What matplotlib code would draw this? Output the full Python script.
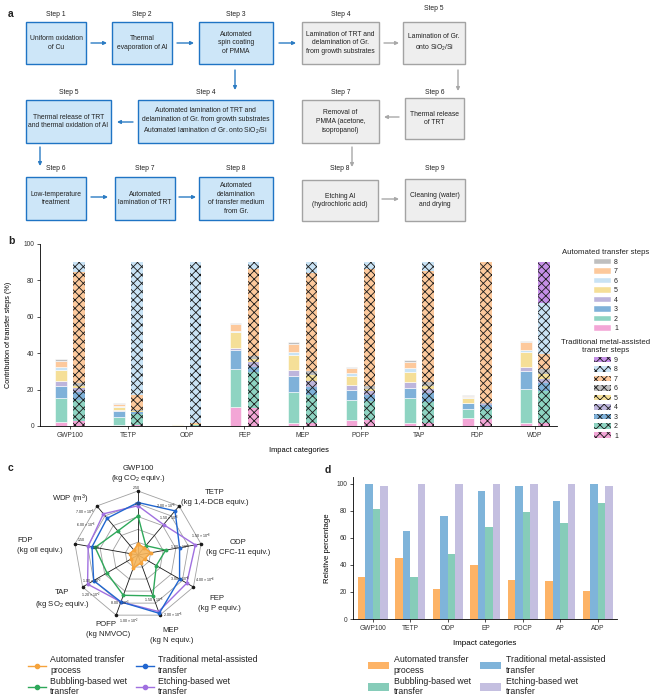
import matplotlib
matplotlib.use("Agg")
import matplotlib.pyplot as plt
import numpy as np
from matplotlib.patches import Rectangle, Patch
from matplotlib.lines import Line2D

plt.rcParams['font.family'] = ['Liberation Sans', 'DejaVu Sans']
plt.rcParams['mathtext.fontset'] = 'custom'
plt.rcParams['mathtext.rm'] = 'Liberation Sans'
plt.rcParams['mathtext.it'] = 'Liberation Sans:italic'
plt.rcParams['hatch.linewidth'] = 0.6
plt.rcParams['axes.linewidth'] = 0.6
plt.rcParams['xtick.major.width'] = 0.6
plt.rcParams['ytick.major.width'] = 0.6
plt.rcParams['xtick.major.size'] = 2
plt.rcParams['ytick.major.size'] = 2
plt.rcParams['text.color'] = '#222222'

# ---------------- data ----------------
# panel b: cumulative tops of each step segment (%)
b_categories = ['GWP100', 'TETP', 'ODP', 'FEP', 'MEP', 'POFP', 'TAP', 'FDP', 'WDP']
auto_cum = [
    [2.4, 15.6, 22.2, 24.9, 30.8, 32.6, 35.9, 36.8],
    [0.3, 5.1, 8.2, 8.6, 10.6, 11.2, 12.3, 12.6],
    [0.1, 0.4, 0.7, 0.8, 0.9, 1.0, 1.1, 1.2],
    [10.3, 31.1, 41.6, 43.0, 51.6, 52.4, 56.2, 56.6],
    [1.8, 18.7, 27.5, 31.0, 38.8, 40.5, 45.0, 46.2],
    [3.3, 14.3, 19.8, 22.3, 27.5, 29.3, 31.7, 32.4],
    [1.8, 15.2, 21.1, 24.4, 29.9, 32.0, 35.3, 36.3],
    [4.2, 9.2, 12.5, 12.8, 15.2, 15.9, 16.7, 17.0],
    [1.8, 20.5, 30.2, 32.6, 40.8, 41.8, 46.0, 46.7],
]
trad_cum = [
    [2.5, 14.3, 18.9, 20.7, 22.2, 23.4, 84.4, 90.3, 90.3],
    [0.3, 6.6, 7.5, 7.9, 8.2, 8.8, 17.0, 90.3, 90.3],
    [0.2, 0.5, 0.7, 0.8, 0.9, 1.0, 1.6, 90.3, 90.3],
    [10.0, 29.5, 32.5, 35.0, 37.0, 38.5, 86.0, 90.3, 90.3],
    [1.8, 17.0, 21.5, 25.0, 28.0, 30.0, 84.2, 90.3, 90.3],
    [3.3, 14.0, 17.0, 19.0, 20.5, 22.0, 86.0, 90.3, 90.3],
    [1.8, 13.4, 18.0, 20.3, 22.2, 24.0, 85.3, 90.3, 90.3],
    [3.7, 9.3, 11.5, 11.9, 12.3, 12.8, 90.0, 90.3, 90.3],
    [1.5, 19.0, 23.4, 25.8, 28.4, 31.1, 39.6, 67.4, 90.3],
]
auto_colors = ['#f3a6d6', '#8ed4c2', '#7fb1d9', '#bdb5dc', '#f5df98', '#c9e3f5', '#fdc99c', '#bfbfbf']
trad_colors = ['#f3a6d6', '#8ed4c2', '#7fb1d9', '#bdb5dc', '#f5df98', '#bfbfbf', '#fdc99c', '#c9e3f5', '#c48fe6']

# panel c: radar, fraction of outer ring
c_axes = ['GWP100', 'TETP', 'ODP', 'FEP', 'MEP', 'POFP', 'TAP', 'FDP', 'WDP']
c_units = ['(kg CO$_2$ equiv.)', '(kg 1,4-DCB equiv.)', '(kg CFC-11 equiv.)', '(kg P equiv.)',
           '(kg N equiv.)', '(kg NMVOC)', '(kg SO$_2$ equiv.)', '(kg oil equiv.)', '']
c_auto = [0.17, 0.15, 0.20, 0.12, 0.13, 0.22, 0.12, 0.13, 0.10]
c_trad = [0.82, 0.90, 0.66, 0.75, 0.97, 0.78, 0.80, 0.73, 0.75]
c_bubb = [0.61, 0.19, 0.44, 0.33, 0.68, 0.67, 0.56, 0.68, 0.49]
c_etch = [0.77, 0.62, 0.91, 0.88, 0.94, 0.78, 0.91, 0.79, 0.84]
c_outer_lbl = ['2.50', '2.00 × 10$^{-8}$', '1.50 × 10$^{-8}$', '4.00 × 10$^{-4}$', '2.00 × 10$^{-5}$',
               '1.00 × 10$^{-2}$', '1.20 × 10$^{-2}$', '1.50', '7.00 × 10$^{-6}$']
c_inner_lbl = ['2.00', '1.50 × 10$^{-8}$', '1.00 × 10$^{-8}$', '3.00 × 10$^{-4}$', '1.50 × 10$^{-5}$',
               '8.00 × 10$^{-3}$', '1.00 × 10$^{-2}$', '1.00', '6.00 × 10$^{-6}$']
c_inner_pos = [0.8, 0.75, 0.67, 0.75, 0.75, 0.8, 0.83, 0.67, 0.86]

# panel d
d_categories = ['GWP100', 'TETP', 'ODP', 'EP', 'POCP', 'AP', 'ADP']
d_auto = [31, 45, 22, 40, 29, 28, 21]
d_trad = [100, 65, 76, 95, 98, 87, 100]
d_bubb = [81, 31, 48, 68, 79, 71, 86]
d_etch = [98, 100, 100, 100, 100, 100, 98]

W, H = 661, 700
fig = plt.figure(figsize=(W / 100, H / 100), dpi=100)


def fax(x0, y0, x1, y1, **kw):
    # axes from pixel box (top-left origin)
    return fig.add_axes([x0 / W, 1 - y1 / H, (x1 - x0) / W, (y1 - y0) / H], **kw)


# ---------------- panel a ----------------
axa = fax(0, 0, W, 235)
axa.set_xlim(0, W)
axa.set_ylim(235, 0)
axa.axis('off')

blue_fc, blue_ec = '#cde6f8', '#1f74c4'
gray_fc, gray_ec = '#eeeeee', '#a3a3a3'
boxes = [
    (26, 22, 86, 64, "Uniform oxidation\nof Cu", "Step 1", 'b', 14),
    (112, 22, 172, 64, "Thermal\nevaporation of Al", "Step 2", 'b', 14),
    (199, 22, 273, 64, "Automated\nspin coating\nof PMMA", "Step 3", 'b', 14),
    (302, 22, 379, 64, "Lamination of TRT and\ndelamination of Gr.\nfrom growth substrates", "Step 4", 'g', 14),
    (403, 22, 465, 64, "Lamination of Gr.\nonto SiO$_2$/Si", "Step 5", 'g', 9),
    (26, 100, 111, 143, "Thermal release of TRT\nand thermal oxidation of Al", "Step 5", 'b', 92),
    (138, 100, 273, 143, "Automated lamination of TRT and\ndelamination of Gr. from growth substrates\n"
                         "Automated lamination of Gr. onto SiO$_2$/Si", "Step 4", 'b', 92),
    (302, 100, 379, 143, "Removal of\nPMMA (acetone,\nisopropanol)", "Step 7", 'g', 92),
    (405, 98, 464, 139, "Thermal release\nof TRT", "Step 6", 'g', 92),
    (26, 177, 86, 220, "Low-temperature\ntreatment", "Step 6", 'b', 168),
    (115, 177, 175, 220, "Automated\nlamination of TRT", "Step 7", 'b', 168),
    (199, 177, 273, 220, "Automated\ndelamination\nof transfer medium\nfrom Gr.", "Step 8", 'b', 168),
    (302, 180, 378, 221, "Etching Al\n(hydrochloric acid)", "Step 8", 'g', 168),
    (405, 179, 465, 221, "Cleaning (water)\nand drying", "Step 9", 'g', 168),
]
for x0, y0, x1, y1, txt, step, kind, sy in boxes:
    fc, ec = (blue_fc, blue_ec) if kind == 'b' else (gray_fc, gray_ec)
    axa.add_patch(Rectangle((x0, y0), x1 - x0, y1 - y0, facecolor=fc, edgecolor=ec, lw=1.0))
    axa.text((x0 + x1) / 2, (y0 + y1) / 2, txt, ha='center', va='center', fontsize=4.9,
             linespacing=1.35)
    axa.text((x0 + x1) / 2, sy, step, ha='center', va='center', fontsize=4.9)

arrows = [
    ((91, 43), (107, 43), 'b'), ((177, 43), (194, 43), 'b'), ((279, 43), (296, 43), 'b'),
    ((384, 43), (399, 43), 'g'), ((235, 70), (235, 90), 'b'), ((458, 70), (458, 91), 'g'),
    ((133, 122), (117, 122), 'b'), ((399, 117), (384, 117), 'g'),
    ((40, 147), (40, 166), 'b'), ((352, 147), (352, 167), 'g'),
    ((91, 197), (108, 197), 'b'), ((179, 197), (196, 197), 'b'), ((382, 199), (399, 199), 'g'),
]
for p0, p1, kind in arrows:
    col = '#2b7bc3' if kind == 'b' else '#a8a8a8'
    axa.annotate('', xy=p1, xytext=p0,
                 arrowprops=dict(arrowstyle='-|>', color=col, lw=1.0, mutation_scale=5,
                                 shrinkA=0, shrinkB=0))

# ---------------- panel b ----------------
axb = fax(40, 244, 557, 426)
xb = np.arange(len(b_categories))
bw, off = 0.2, 0.155
for i in range(len(b_categories)):
    a_seg = np.diff(auto_cum[i], prepend=0)
    a_bot = np.array(auto_cum[i]) - a_seg
    axb.bar(np.full(8, xb[i] - off), a_seg, bw, bottom=a_bot, color=auto_colors,
            edgecolor='white', linewidth=0.4)
    t_seg = np.diff(trad_cum[i], prepend=0)
    t_bot = np.array(trad_cum[i]) - t_seg
    axb.bar(np.full(9, xb[i] + off), t_seg, bw, bottom=t_bot, color=trad_colors,
            edgecolor='#1a1a1a', linewidth=0, hatch='xxxx')
axb.set_xlim(-0.52, 8.38)
axb.set_ylim(0, 100)
axb.set_yticks(range(0, 101, 20))
axb.set_xticks(xb)
axb.set_xticklabels(b_categories)
axb.tick_params(labelsize=4.8, pad=2, colors='#333333')
for s in ['top', 'right']:
    axb.spines[s].set_visible(False)
axb.set_ylabel('Contribution of transfer steps (%)', fontsize=5.2)
axb.yaxis.set_label_coords(-0.054, 0.5)
axb.set_xlabel('Impact categories', fontsize=5.4)
axb.xaxis.set_label_coords(0.5, -0.115)

h_auto = [Patch(facecolor=auto_colors[k], edgecolor='white', lw=0.3) for k in range(7, -1, -1)]
l_auto = [str(k + 1) for k in range(7, -1, -1)]
leg1 = axb.legend(h_auto, l_auto, title='Automated transfer steps', loc='upper center',
                  bbox_to_anchor=(606 / W, 1 - 246 / H), bbox_transform=fig.transFigure,
                  frameon=False, fontsize=5, title_fontsize=5.6, handlelength=2.4,
                  handleheight=0.85, labelspacing=0.33, handletextpad=0.5, borderpad=0)
axb.add_artist(leg1)
h_trad = [Patch(facecolor=trad_colors[k], edgecolor='#1a1a1a', lw=0, hatch='xxxx') for k in range(8, -1, -1)]
l_trad = [str(k + 1) for k in range(8, -1, -1)]
leg2 = axb.legend(h_trad, l_trad, title='Traditional metal-assisted\ntransfer steps', loc='upper center',
                  bbox_to_anchor=(606 / W, 1 - 336 / H), bbox_transform=fig.transFigure,
                  frameon=False, fontsize=5, title_fontsize=5.6, handlelength=2.4,
                  handleheight=0.85, labelspacing=0.33, handletextpad=0.5, borderpad=0)
leg2.get_title().set_multialignment('center')

# ---------------- panel c ----------------
R = 64.0
cx, cy = 138, 555
axc = fax(5, 455, 275, 650)
axc.set_xlim((5 - cx) / R, (275 - cx) / R)
axc.set_ylim((cy - 650) / R, (cy - 455) / R)
axc.axis('off')
n = len(c_axes)
theta = np.arange(n) * 2 * np.pi / n
ux, uy = np.sin(theta), np.cos(theta)
for r in [0.2, 0.4, 0.6, 0.8, 1.0]:
    axc.plot(np.append(ux, ux[0]) * r, np.append(uy, uy[0]) * r, color='#a0a0a0', lw=0.6, zorder=1)
for k in range(n):
    axc.plot([0, ux[k]], [0, uy[k]], color='#1a1a1a', lw=0.6, zorder=2)
axc.scatter(ux, uy, s=2.5, color='#1a1a1a', zorder=3)
series = [(c_etch, '#a070e0'), (c_trad, '#2166d0'), (c_bubb, '#2ea85a'), (c_auto, '#f5a33c')]
for vals, col in series:
    v = np.array(vals)
    axc.plot(np.append(ux * v, ux[0] * v[0]), np.append(uy * v, uy[0] * v[0]), color=col,
             lw=1.0, marker='o', ms=1.8, zorder=4)
va = np.array(c_auto)
axc.fill(ux * va, uy * va, color='#f7b65c', alpha=0.9, zorder=3.5)
# tick label placement (dx, dy, ha, va)
outer_place = [(-0.02, 0.02, 'center', 'bottom'), (-0.05, 0.0, 'right', 'center'),
               (0.0, 0.05, 'center', 'bottom'), (0.03, 0.03, 'left', 'bottom'),
               (0.05, 0.0, 'left', 'center'), (0.04, -0.03, 'left', 'top'),
               (-0.03, -0.05, 'left', 'top'), (0.04, 0.03, 'left', 'bottom'),
               (-0.03, -0.02, 'right', 'top')]
inner_place = [(0, 0, 'center'), (0, 0, 'center'), (0, 0, 'center'), (0, 0, 'center'),
               (0, 0, 'center'), (0, 0, 'center'), (0, 0, 'center'), (0, 0, 'center'),
               (-0.1, -0.2, 'right')]
for k in range(n):
    dx, dy, h_, v_ = outer_place[k]
    axc.text(ux[k] + dx, uy[k] + dy, c_outer_lbl[k], fontsize=2.6, ha=h_, va=v_, zorder=6)
    p = c_inner_pos[k]
    dx, dy, h_ = inner_place[k]
    axc.text(ux[k] * p + dx, uy[k] * p + dy, c_inner_lbl[k], fontsize=2.6, ha=h_, va='center', zorder=6)

# label positions in pixels: (name x, name y, unit x, unit y)
c_label_px = [(138, 469, 138, 479), (215, 492, 215, 502), (238, 543, 238, 553),
              (217, 599, 219, 609), (171, 630, 172, 640), (106, 625, 108, 635),
              (62, 593, 62, 604), (25, 541, 40, 551), (70, 499, 70, 509)]
for k in range(n):
    nx, ny, ux_, uy_ = c_label_px[k]
    name = 'WDP (m$^3$)' if c_axes[k] == 'WDP' else c_axes[k]
    axc.text((nx - cx) / R, (cy - ny) / R, name, ha='center', va='center', fontsize=5.6)
    if c_units[k]:
        axc.text((ux_ - cx) / R, (cy - uy_) / R, c_units[k], ha='center', va='center', fontsize=5.6)

c_handles = [Line2D([0], [0], color=col, lw=1.0, marker='o', ms=3) for col in
             ['#f5a33c', '#2ea85a', '#2166d0', '#a070e0']]
c_names = ['Automated transfer\nprocess', 'Bubbling-based wet\ntransfer',
           'Traditional metal-assisted\ntransfer', 'Etching-based wet\ntransfer']
axc.legend(c_handles, c_names, ncol=2, loc='upper left', bbox_to_anchor=(24 / W, 1 - 651 / H),
           bbox_transform=fig.transFigure, frameon=False, fontsize=6.3, handlelength=2.0,
           handletextpad=0.5, columnspacing=1.0, labelspacing=0.25, borderpad=0)

# ---------------- panel d ----------------
axd = fax(353, 477, 617, 619)
xd = np.arange(len(d_categories))
d_cols = ['#fdb366', '#7fb4da', '#86ccb9', '#c4bfe0']
for j, (vals, col) in enumerate(zip([d_auto, d_trad, d_bubb, d_etch], d_cols)):
    axd.bar(xd + (j - 1.5) * 0.2, vals, 0.2, color=col, linewidth=0)
axd.set_xlim(-0.53, 6.51)
axd.set_ylim(0, 105)
axd.set_yticks(range(0, 101, 20))
axd.set_xticks(xd)
axd.set_xticklabels(d_categories)
axd.tick_params(labelsize=4.8, pad=2, colors='#333333')
for s in ['top', 'right']:
    axd.spines[s].set_visible(False)
axd.set_ylabel('Relative percentage', fontsize=5.6)
axd.set_xlabel('Impact categories', fontsize=5.8)
axd.xaxis.set_label_coords(0.5, -0.148)
d_handles = [Patch(facecolor=d_cols[k]) for k in [0, 2, 1, 3]]
d_names = ['Automated transfer\nprocess', 'Bubbling-based wet\ntransfer',
           'Traditional metal-assisted\ntransfer', 'Etching-based wet\ntransfer']
axd.legend(d_handles, d_names, ncol=2, loc='upper left', bbox_to_anchor=(364 / W, 1 - 651 / H),
           bbox_transform=fig.transFigure, frameon=False, fontsize=6.3, handlelength=2.4,
           handleheight=1.0, handletextpad=0.5, columnspacing=1.1, labelspacing=0.25, borderpad=0)

# panel letters
for lab, x, y in [('a', 8, 14), ('b', 8, 241), ('c', 8, 468), ('d', 325, 470)]:
    fig.text(x / W, 1 - y / H, lab, fontsize=7.5, fontweight='bold', ha='left', va='center')

fig.savefig('out.png', dpi=100)
